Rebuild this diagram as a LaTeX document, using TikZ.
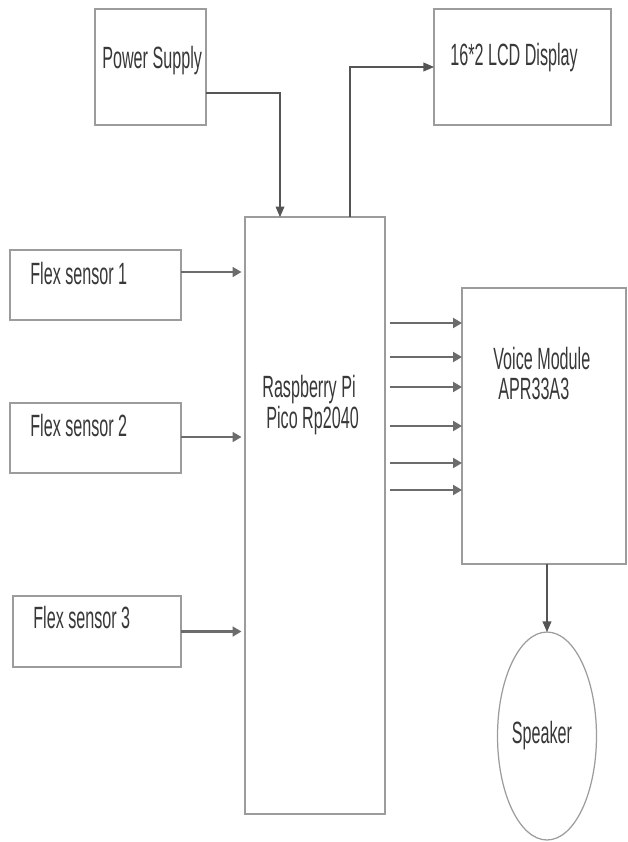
\documentclass[tikz,border=0pt]{standalone}
\usepackage{fontspec}
\usepackage{xcolor}
\usepackage{tikz}
\usetikzlibrary{shapes.geometric, arrows.meta, positioning, calc}
\newfontfamily\blockfont[FakeStretch=0.525]{Liberation Sans}
\definecolor{boxgray}{HTML}{9C9C9C}
\definecolor{wiregray}{HTML}{555555}
\definecolor{busgray}{HTML}{6C6C6C}
\definecolor{textgray}{HTML}{383838}

\tikzset{
    blockbox/.style={draw=boxgray, line width=1.1pt, fill=white, inner sep=0pt, outer sep=0pt},
    blocktext/.style={textgray, inner sep=0pt, anchor=base west, font=\blockfont\fontsize{17.5}{20}\selectfont},
    wire/.style={draw=wiregray, line width=0.6pt, -{Triangle[length=6pt, width=5pt]}},
    bus/.style={draw=busgray, line width=1.4pt, -{Triangle[length=5pt, width=5.5pt]}}
}

\begin{document}
\begin{tikzpicture}[x=0.02cm, y=-0.02cm]
    \useasboundingbox (0,0) rectangle (628,842);

    % Blocks
    \node[blockbox, minimum width=2.22cm, minimum height=2.32cm] (power) at (150.5,67) {};
    \node[blockbox, minimum width=3.54cm, minimum height=2.32cm] (lcd) at (522.5,67) {};
    \node[blockbox, minimum width=2.8cm, minimum height=11.94cm] (pico) at (315,515.5) {};
    \node[blockbox, minimum width=3.42cm, minimum height=1.4cm] (flexa) at (95.5,285) {};
    \node[blockbox, minimum width=3.42cm, minimum height=1.4cm] (flexb) at (95.5,438) {};
    \node[blockbox, minimum width=3.36cm, minimum height=1.42cm] (flexc) at (97,631.5) {};
    \node[blockbox, minimum width=3.28cm, minimum height=5.52cm] (voice) at (544,426) {};
    \node[blockbox, ellipse, line width=0.7pt, minimum width=1.98cm, minimum height=4.16cm] (speaker) at (547,736) {};

    % Labels
    \node[blocktext] (powertxt) at (102,68) {Power Supply};
    \node[blocktext] (lcdtxt) at (450,65) {16*2 LCD Display};
    \node[blocktext] (flexatxt) at (30,284) {Flex sensor 1};
    \node[blocktext] (flexbtxt) at (30,436) {Flex sensor 2};
    \node[blocktext] (flexctxt) at (33,628) {Flex sensor 3};
    \node[blocktext] (picotxta) at (262,397) {Raspberry Pi};
    \node[blocktext] (picotxtb) at (266,428) {Pico Rp2040};
    \node[blocktext] (voicetxta) at (493,369) {Voice Module};
    \node[blocktext] (voicetxtb) at (498,399) {APR33A3};
    \node[blocktext, anchor=base] (speakertxt) at (542,743) {Speaker};

    % Supply and display
    \draw[wire] ([yshift=-0.52cm]power.east) -| ([xshift=-0.7cm]pico.north);
    \draw[wire] ([xshift=0.7cm]pico.north) |- (lcd.west);

    % Sensors
    \draw[bus] ([yshift=0.26cm]flexa.east) -- ([yshift=0.26cm, xshift=-2pt]flexa.east -| pico.west);
    \draw[bus] ([yshift=0.02cm]flexb.east) -- ([yshift=0.02cm, xshift=-2pt]flexb.east -| pico.west);
    \draw[bus] (flexc.east) -- ([xshift=-2pt]flexc.east -| pico.west);

    % Pico to voice module
    \foreach \yy [count=\i] in {323,357,387,426,463,490} {
        \coordinate (tap\i) at (0,\yy);
        \draw[bus] ([xshift=3pt]pico.east |- tap\i) -- (voice.west |- tap\i);
    }

    % Voice module to speaker
    \draw[wire] (voice.south -| speaker.north) -- (speaker.north);
\end{tikzpicture}
\end{document}
